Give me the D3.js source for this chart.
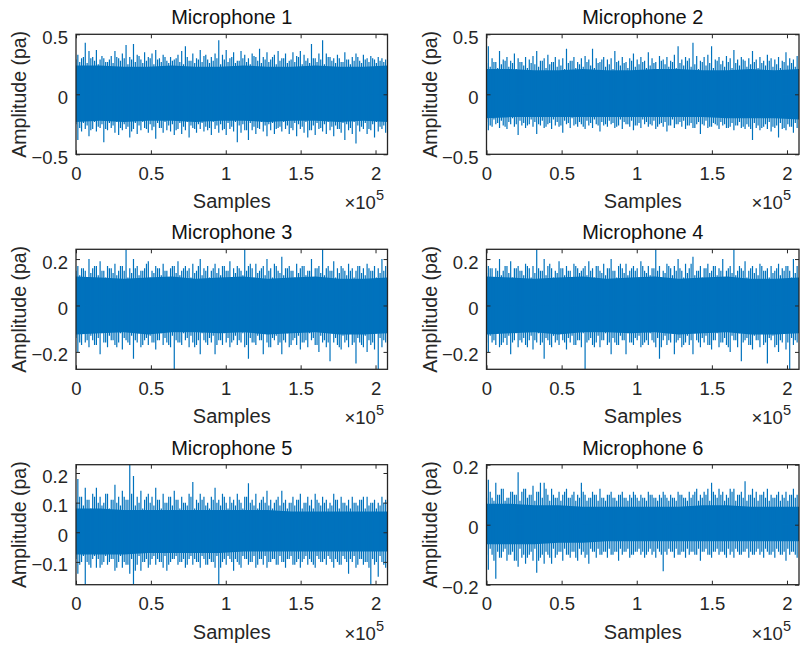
<!DOCTYPE html>
<html>
<head>
<meta charset="utf-8">
<script src="https://cdn.jsdelivr.net/npm/d3@7"></script>
<style>
  body { margin: 0; background: #fff; }
  svg { display: block; }
  text { font-family: "Liberation Sans", Arial, Helvetica, sans-serif; }
</style>
</head>
<body>
<svg id="fig" width="800" height="647"></svg>
<script>
// Six microphone recordings, 208000 samples each.
const sampleCount = 208000;

const titles = ["Microphone 1", "Microphone 2", "Microphone 3",
                "Microphone 4", "Microphone 5", "Microphone 6"];

const xTickValues = [0, 50000, 100000, 150000, 200000];
const xTickLabels = ["0", "0.5", "1", "1.5", "2"];
const xExponent = "5";

const yTicksMic1 = [-0.5, 0, 0.5];
const yTicksMic2 = [-0.5, 0, 0.5];
const yTicksMic3 = [-0.2, 0, 0.2];
const yTicksMic4 = [-0.2, 0, 0.2];
const yTicksMic5 = [-0.1, 0, 0.1, 0.2];
const yTicksMic6 = [-0.2, 0, 0.2];

// Fixed y limits; null means the axis is fitted tightly to the data.
const yLimMic1 = [-0.5, 0.5];
const yLimMic2 = [-0.5, 0.5];
const yLimMic3 = null;
const yLimMic4 = null;
const yLimMic5 = null;
const yLimMic6 = [-0.2, 0.2];

// Largest positive / negative excursion in each of 84 equal blocks.
const peakHiMic1 = [0.33,0.30,0.43,0.36,0.31,0.37,0.29,0.30,0.27,0.32,0.36,0.30,0.34,0.41,0.31,0.42,0.33,0.29,0.35,0.31,0.34,0.37,0.30,0.33,0.28,0.31,0.29,0.33,0.36,0.40,0.28,0.34,0.30,0.37,0.32,0.29,0.31,0.34,0.45,0.33,0.37,0.30,0.35,0.28,0.36,0.33,0.30,0.34,0.31,0.38,0.31,0.35,0.29,0.33,0.36,0.30,0.34,0.28,0.35,0.32,0.36,0.33,0.30,0.42,0.30,0.34,0.45,0.34,0.31,0.30,0.33,0.27,0.35,0.29,0.31,0.34,0.28,0.33,0.30,0.32,0.29,0.31,0.30,0.29];
const peakLoMic1 = [-0.38,-0.31,-0.29,-0.35,-0.29,-0.31,-0.28,-0.40,-0.30,-0.28,-0.32,-0.34,-0.30,-0.29,-0.36,-0.29,-0.33,-0.30,-0.28,-0.32,-0.30,-0.37,-0.28,-0.32,-0.30,-0.31,-0.34,-0.29,-0.33,-0.30,-0.36,-0.28,-0.32,-0.29,-0.31,-0.30,-0.34,-0.29,-0.32,-0.30,-0.34,-0.29,-0.31,-0.40,-0.32,-0.30,-0.38,-0.30,-0.33,-0.29,-0.31,-0.35,-0.30,-0.33,-0.28,-0.31,-0.29,-0.33,-0.30,-0.35,-0.29,-0.32,-0.36,-0.30,-0.34,-0.29,-0.31,-0.33,-0.30,-0.35,-0.29,-0.32,-0.38,-0.30,-0.33,-0.41,-0.31,-0.29,-0.33,-0.30,-0.36,-0.31,-0.29,-0.32];
// Second-largest excursion in each block, found half a block earlier.
const subHiMic1 = [0.29,0.27,0.31,0.26,0.30,0.28,0.25,0.32,0.27,0.29,0.26,0.31,0.28,0.30,0.25,0.29,0.27,0.32,0.26,0.28,0.30,0.25,0.29,0.27,0.31,0.26,0.28,0.30,0.27,0.25,0.31,0.28,0.26,0.29,0.27,0.33,0.26,0.28,0.30,0.25,0.29,0.27,0.31,0.26,0.28,0.30,0.27,0.25,0.32,0.28,0.26,0.29,0.27,0.31,0.25,0.28,0.30,0.26,0.29,0.27,0.31,0.25,0.28,0.26,0.30,0.27,0.29,0.25,0.31,0.28,0.26,0.30,0.27,0.29,0.25,0.28,0.31,0.26,0.29,0.27,0.30,0.26,0.28,0.27];
const subLoMic1 = [-0.25,-0.28,-0.24,-0.26,-0.30,-0.23,-0.27,-0.25,-0.29,-0.24,-0.26,-0.23,-0.28,-0.25,-0.27,-0.31,-0.24,-0.26,-0.23,-0.29,-0.25,-0.27,-0.24,-0.28,-0.23,-0.26,-0.25,-0.30,-0.24,-0.27,-0.23,-0.26,-0.29,-0.25,-0.24,-0.27,-0.28,-0.23,-0.26,-0.25,-0.29,-0.24,-0.27,-0.23,-0.26,-0.25,-0.30,-0.24,-0.27,-0.28,-0.23,-0.26,-0.25,-0.24,-0.29,-0.27,-0.23,-0.26,-0.28,-0.24,-0.25,-0.27,-0.23,-0.30,-0.26,-0.24,-0.28,-0.25,-0.23,-0.27,-0.26,-0.29,-0.24,-0.25,-0.28,-0.23,-0.26,-0.27,-0.24,-0.29,-0.25,-0.23,-0.27,-0.26];

const peakHiMic2 = [0.40,0.30,0.27,0.36,0.29,0.31,0.28,0.34,0.30,0.27,0.31,0.29,0.32,0.36,0.28,0.30,0.33,0.27,0.31,0.29,0.30,0.38,0.28,0.31,0.27,0.30,0.32,0.29,0.38,0.30,0.27,0.31,0.29,0.30,0.36,0.28,0.31,0.27,0.30,0.34,0.29,0.31,0.28,0.35,0.30,0.27,0.32,0.29,0.31,0.28,0.33,0.40,0.29,0.31,0.30,0.43,0.32,0.28,0.31,0.33,0.40,0.29,0.31,0.28,0.32,0.30,0.37,0.29,0.31,0.28,0.30,0.36,0.29,0.31,0.28,0.33,0.30,0.29,0.31,0.28,0.35,0.30,0.29,0.32];
const peakLoMic2 = [-0.30,-0.27,-0.25,-0.28,-0.26,-0.29,-0.25,-0.27,-0.34,-0.26,-0.28,-0.25,-0.27,-0.33,-0.26,-0.28,-0.25,-0.29,-0.26,-0.27,-0.32,-0.25,-0.28,-0.26,-0.27,-0.25,-0.29,-0.26,-0.28,-0.25,-0.31,-0.26,-0.27,-0.25,-0.28,-0.26,-0.29,-0.25,-0.27,-0.30,-0.26,-0.28,-0.25,-0.27,-0.26,-0.29,-0.25,-0.27,-0.31,-0.26,-0.28,-0.25,-0.27,-0.29,-0.26,-0.28,-0.25,-0.33,-0.26,-0.28,-0.27,-0.25,-0.29,-0.26,-0.28,-0.27,-0.30,-0.26,-0.28,-0.29,-0.27,-0.38,-0.28,-0.30,-0.27,-0.29,-0.31,-0.28,-0.36,-0.29,-0.30,-0.27,-0.32,-0.28];
const subHiMic2 = [0.26,0.23,0.27,0.22,0.25,0.28,0.23,0.26,0.21,0.27,0.24,0.22,0.26,0.25,0.23,0.28,0.22,0.25,0.27,0.23,0.24,0.21,0.26,0.28,0.22,0.25,0.23,0.27,0.24,0.22,0.26,0.29,0.23,0.25,0.21,0.27,0.24,0.26,0.22,0.28,0.23,0.25,0.27,0.22,0.24,0.26,0.21,0.28,0.25,0.23,0.27,0.22,0.26,0.24,0.28,0.23,0.25,0.21,0.27,0.24,0.26,0.22,0.28,0.25,0.23,0.27,0.22,0.26,0.24,0.29,0.23,0.25,0.27,0.22,0.26,0.24,0.28,0.23,0.25,0.22,0.27,0.24,0.26,0.23];
const subLoMic2 = [-0.23,-0.26,-0.21,-0.24,-0.22,-0.27,-0.23,-0.20,-0.25,-0.22,-0.24,-0.26,-0.21,-0.23,-0.25,-0.22,-0.27,-0.24,-0.21,-0.23,-0.26,-0.22,-0.24,-0.20,-0.25,-0.23,-0.27,-0.22,-0.24,-0.21,-0.26,-0.23,-0.25,-0.22,-0.24,-0.27,-0.21,-0.23,-0.25,-0.22,-0.26,-0.24,-0.21,-0.23,-0.25,-0.22,-0.27,-0.24,-0.23,-0.26,-0.21,-0.25,-0.23,-0.22,-0.26,-0.24,-0.28,-0.23,-0.25,-0.22,-0.27,-0.24,-0.26,-0.23,-0.25,-0.28,-0.24,-0.26,-0.23,-0.27,-0.25,-0.29,-0.24,-0.26,-0.28,-0.25,-0.23,-0.27,-0.26,-0.24,-0.28,-0.25,-0.27,-0.24];

const peakHiMic3 = [0.17,0.16,0.15,0.20,0.16,0.17,0.19,0.15,0.17,0.16,0.18,0.15,0.17,0.242,0.16,0.20,0.17,0.15,0.16,0.19,0.15,0.17,0.16,0.18,0.15,0.16,0.17,0.19,0.15,0.17,0.16,0.18,0.15,0.20,0.16,0.17,0.15,0.18,0.16,0.17,0.15,0.19,0.16,0.17,0.15,0.242,0.17,0.16,0.18,0.15,0.17,0.20,0.16,0.18,0.15,0.21,0.16,0.17,0.15,0.18,0.16,0.17,0.15,0.20,0.16,0.17,0.242,0.16,0.15,0.19,0.16,0.17,0.15,0.18,0.16,0.15,0.17,0.16,0.18,0.15,0.17,0.16,0.20,0.17];
const peakLoMic3 = [-0.20,-0.17,-0.16,-0.18,-0.15,-0.17,-0.21,-0.16,-0.18,-0.15,-0.17,-0.16,-0.19,-0.15,-0.17,-0.23,-0.16,-0.18,-0.15,-0.17,-0.16,-0.19,-0.15,-0.17,-0.16,-0.18,-0.275,-0.16,-0.17,-0.15,-0.18,-0.16,-0.17,-0.21,-0.15,-0.17,-0.16,-0.21,-0.15,-0.17,-0.16,-0.18,-0.15,-0.17,-0.16,-0.18,-0.23,-0.16,-0.17,-0.15,-0.21,-0.16,-0.18,-0.15,-0.17,-0.21,-0.16,-0.18,-0.15,-0.17,-0.19,-0.16,-0.18,-0.15,-0.17,-0.20,-0.16,-0.18,-0.24,-0.16,-0.17,-0.19,-0.16,-0.18,-0.17,-0.25,-0.16,-0.18,-0.20,-0.17,-0.19,-0.275,-0.18,-0.16];
const subHiMic3 = [0.15,0.13,0.16,0.12,0.14,0.17,0.13,0.15,0.12,0.16,0.14,0.13,0.17,0.15,0.12,0.14,0.16,0.13,0.15,0.18,0.12,0.14,0.16,0.13,0.15,0.12,0.17,0.14,0.13,0.16,0.15,0.12,0.14,0.17,0.13,0.15,0.12,0.16,0.14,0.13,0.17,0.15,0.12,0.14,0.16,0.13,0.15,0.18,0.12,0.14,0.16,0.13,0.15,0.12,0.17,0.14,0.13,0.16,0.15,0.12,0.14,0.17,0.13,0.15,0.12,0.16,0.14,0.13,0.17,0.15,0.12,0.14,0.16,0.13,0.15,0.12,0.17,0.14,0.13,0.16,0.15,0.12,0.14,0.15];
const subLoMic3 = [-0.14,-0.16,-0.12,-0.15,-0.13,-0.17,-0.14,-0.12,-0.16,-0.13,-0.15,-0.18,-0.12,-0.14,-0.16,-0.13,-0.15,-0.12,-0.17,-0.14,-0.13,-0.16,-0.15,-0.12,-0.14,-0.17,-0.13,-0.15,-0.16,-0.12,-0.14,-0.13,-0.18,-0.15,-0.12,-0.16,-0.14,-0.13,-0.17,-0.15,-0.12,-0.14,-0.16,-0.13,-0.15,-0.12,-0.17,-0.14,-0.16,-0.13,-0.15,-0.12,-0.18,-0.14,-0.13,-0.16,-0.15,-0.12,-0.17,-0.14,-0.13,-0.16,-0.15,-0.12,-0.14,-0.17,-0.13,-0.15,-0.16,-0.12,-0.14,-0.18,-0.13,-0.15,-0.12,-0.16,-0.14,-0.17,-0.13,-0.15,-0.16,-0.12,-0.14,-0.15];

const peakHiMic4 = [0.17,0.16,0.16,0.20,0.15,0.17,0.19,0.16,0.17,0.15,0.18,0.16,0.17,0.242,0.15,0.20,0.17,0.16,0.15,0.19,0.16,0.17,0.15,0.18,0.16,0.15,0.17,0.19,0.16,0.17,0.15,0.18,0.16,0.20,0.15,0.17,0.16,0.18,0.15,0.17,0.16,0.19,0.15,0.17,0.16,0.242,0.17,0.15,0.18,0.16,0.17,0.20,0.15,0.18,0.16,0.21,0.15,0.17,0.16,0.18,0.15,0.17,0.16,0.20,0.15,0.17,0.242,0.15,0.16,0.19,0.15,0.17,0.16,0.18,0.15,0.16,0.17,0.15,0.18,0.16,0.17,0.15,0.20,0.17];
const peakLoMic4 = [-0.20,-0.16,-0.17,-0.18,-0.16,-0.17,-0.21,-0.15,-0.18,-0.16,-0.17,-0.15,-0.19,-0.16,-0.17,-0.23,-0.15,-0.18,-0.16,-0.17,-0.15,-0.19,-0.16,-0.17,-0.15,-0.18,-0.275,-0.15,-0.17,-0.16,-0.18,-0.15,-0.17,-0.21,-0.16,-0.17,-0.15,-0.21,-0.16,-0.17,-0.15,-0.18,-0.16,-0.17,-0.15,-0.18,-0.23,-0.15,-0.17,-0.16,-0.21,-0.15,-0.18,-0.16,-0.17,-0.21,-0.15,-0.18,-0.16,-0.17,-0.19,-0.15,-0.18,-0.16,-0.17,-0.20,-0.15,-0.18,-0.24,-0.15,-0.17,-0.19,-0.15,-0.18,-0.17,-0.25,-0.15,-0.18,-0.20,-0.16,-0.19,-0.275,-0.17,-0.16];
const subHiMic4 = [0.14,0.16,0.12,0.15,0.13,0.17,0.14,0.12,0.16,0.15,0.13,0.17,0.12,0.14,0.16,0.15,0.13,0.18,0.12,0.14,0.16,0.13,0.15,0.12,0.17,0.14,0.16,0.13,0.15,0.12,0.17,0.14,0.13,0.16,0.15,0.12,0.18,0.14,0.13,0.16,0.15,0.12,0.17,0.14,0.13,0.16,0.15,0.12,0.14,0.17,0.13,0.15,0.16,0.12,0.14,0.18,0.13,0.15,0.12,0.16,0.14,0.17,0.13,0.15,0.12,0.16,0.14,0.13,0.17,0.15,0.12,0.16,0.14,0.13,0.17,0.15,0.12,0.14,0.16,0.13,0.15,0.17,0.12,0.14];
const subLoMic4 = [-0.16,-0.13,-0.15,-0.12,-0.17,-0.14,-0.13,-0.16,-0.12,-0.15,-0.14,-0.18,-0.13,-0.15,-0.12,-0.16,-0.14,-0.17,-0.13,-0.15,-0.12,-0.16,-0.14,-0.13,-0.17,-0.15,-0.12,-0.16,-0.14,-0.18,-0.13,-0.15,-0.12,-0.16,-0.14,-0.17,-0.13,-0.15,-0.12,-0.16,-0.14,-0.13,-0.17,-0.15,-0.12,-0.16,-0.14,-0.18,-0.13,-0.15,-0.12,-0.16,-0.14,-0.17,-0.13,-0.15,-0.12,-0.16,-0.14,-0.13,-0.17,-0.15,-0.12,-0.16,-0.14,-0.18,-0.13,-0.15,-0.12,-0.16,-0.14,-0.17,-0.13,-0.15,-0.12,-0.16,-0.14,-0.13,-0.17,-0.15,-0.12,-0.16,-0.14,-0.15];

const peakHiMic5 = [0.18,0.12,0.15,0.11,0.13,0.15,0.12,0.10,0.13,0.11,0.16,0.12,0.14,0.11,0.228,0.19,0.12,0.14,0.11,0.13,0.12,0.15,0.11,0.13,0.10,0.12,0.14,0.11,0.12,0.10,0.13,0.17,0.11,0.13,0.12,0.10,0.12,0.15,0.11,0.13,0.10,0.12,0.11,0.13,0.10,0.12,0.165,0.11,0.13,0.10,0.12,0.14,0.11,0.10,0.12,0.14,0.11,0.10,0.12,0.11,0.13,0.10,0.12,0.11,0.13,0.10,0.12,0.11,0.10,0.13,0.11,0.12,0.10,0.11,0.12,0.10,0.11,0.12,0.12,0.10,0.11,0.10,0.12,0.11];
const peakLoMic5 = [-0.14,-0.10,-0.177,-0.11,-0.09,-0.12,-0.12,-0.10,-0.11,-0.09,-0.13,-0.10,-0.12,-0.11,-0.14,-0.175,-0.11,-0.13,-0.10,-0.12,-0.09,-0.11,-0.10,-0.12,-0.13,-0.10,-0.09,-0.11,-0.10,-0.12,-0.09,-0.11,-0.10,-0.12,-0.09,-0.11,-0.10,-0.12,-0.177,-0.10,-0.11,-0.09,-0.13,-0.10,-0.12,-0.09,-0.11,-0.10,-0.12,-0.09,-0.11,-0.12,-0.10,-0.09,-0.11,-0.10,-0.12,-0.09,-0.11,-0.10,-0.12,-0.09,-0.11,-0.10,-0.12,-0.09,-0.10,-0.11,-0.09,-0.12,-0.10,-0.11,-0.09,-0.14,-0.10,-0.12,-0.09,-0.11,-0.10,-0.177,-0.11,-0.15,-0.10,-0.12];
const subHiMic5 = [0.10,0.12,0.09,0.11,0.08,0.12,0.10,0.09,0.13,0.08,0.11,0.10,0.09,0.12,0.11,0.13,0.09,0.10,0.08,0.12,0.10,0.09,0.11,0.08,0.10,0.12,0.09,0.11,0.08,0.10,0.09,0.12,0.08,0.10,0.11,0.09,0.08,0.11,0.10,0.09,0.12,0.08,0.10,0.09,0.11,0.08,0.12,0.10,0.09,0.08,0.11,0.10,0.09,0.08,0.11,0.09,0.10,0.08,0.10,0.09,0.11,0.08,0.10,0.09,0.08,0.11,0.09,0.10,0.08,0.09,0.11,0.08,0.10,0.09,0.08,0.10,0.09,0.11,0.08,0.09,0.10,0.08,0.09,0.10];
const subLoMic5 = [-0.09,-0.11,-0.08,-0.10,-0.12,-0.08,-0.09,-0.11,-0.08,-0.10,-0.09,-0.12,-0.08,-0.10,-0.11,-0.09,-0.13,-0.08,-0.10,-0.09,-0.11,-0.08,-0.09,-0.10,-0.08,-0.11,-0.09,-0.08,-0.10,-0.09,-0.11,-0.08,-0.09,-0.10,-0.08,-0.11,-0.09,-0.10,-0.08,-0.12,-0.09,-0.08,-0.10,-0.09,-0.11,-0.08,-0.09,-0.10,-0.08,-0.11,-0.09,-0.08,-0.10,-0.09,-0.11,-0.08,-0.10,-0.09,-0.08,-0.11,-0.09,-0.10,-0.08,-0.09,-0.11,-0.08,-0.10,-0.09,-0.08,-0.10,-0.09,-0.11,-0.08,-0.10,-0.09,-0.08,-0.11,-0.09,-0.10,-0.12,-0.09,-0.10,-0.08,-0.11];

const peakHiMic6 = [0.15,0.09,0.14,0.10,0.12,0.09,0.11,0.10,0.175,0.11,0.12,0.10,0.13,0.11,0.14,0.14,0.10,0.12,0.09,0.11,0.10,0.12,0.09,0.11,0.10,0.14,0.10,0.09,0.11,0.10,0.12,0.09,0.10,0.11,0.09,0.10,0.11,0.09,0.10,0.11,0.09,0.10,0.09,0.11,0.10,0.09,0.10,0.11,0.09,0.10,0.09,0.11,0.10,0.09,0.11,0.10,0.12,0.10,0.11,0.12,0.14,0.10,0.12,0.11,0.10,0.12,0.12,0.10,0.11,0.145,0.10,0.12,0.11,0.10,0.11,0.12,0.10,0.09,0.11,0.10,0.11,0.10,0.12,0.10];
const peakLoMic6 = [-0.15,-0.10,-0.18,-0.11,-0.09,-0.12,-0.10,-0.12,-0.14,-0.11,-0.13,-0.10,-0.12,-0.16,-0.11,-0.13,-0.10,-0.13,-0.11,-0.09,-0.12,-0.10,-0.11,-0.09,-0.12,-0.10,-0.11,-0.13,-0.09,-0.11,-0.10,-0.09,-0.11,-0.10,-0.09,-0.12,-0.10,-0.09,-0.11,-0.10,-0.09,-0.10,-0.11,-0.09,-0.10,-0.11,-0.09,-0.155,-0.10,-0.09,-0.11,-0.10,-0.09,-0.11,-0.10,-0.09,-0.10,-0.12,-0.09,-0.10,-0.11,-0.09,-0.10,-0.09,-0.11,-0.10,-0.11,-0.09,-0.10,-0.09,-0.11,-0.10,-0.09,-0.10,-0.11,-0.09,-0.10,-0.11,-0.09,-0.10,-0.12,-0.10,-0.09,-0.11];
const subHiMic6 = [0.09,0.11,0.08,0.10,0.12,0.08,0.09,0.11,0.10,0.08,0.12,0.09,0.10,0.08,0.11,0.09,0.12,0.08,0.10,0.09,0.08,0.11,0.09,0.10,0.08,0.09,0.11,0.08,0.09,0.10,0.08,0.09,0.08,0.10,0.09,0.08,0.10,0.09,0.08,0.09,0.10,0.08,0.09,0.08,0.10,0.09,0.08,0.09,0.10,0.08,0.09,0.08,0.10,0.09,0.08,0.09,0.11,0.08,0.09,0.10,0.08,0.11,0.09,0.10,0.08,0.09,0.11,0.08,0.10,0.09,0.08,0.10,0.09,0.08,0.10,0.09,0.08,0.09,0.10,0.08,0.09,0.08,0.10,0.09];
const subLoMic6 = [-0.10,-0.08,-0.12,-0.09,-0.11,-0.08,-0.10,-0.09,-0.12,-0.08,-0.10,-0.11,-0.09,-0.08,-0.12,-0.10,-0.09,-0.11,-0.08,-0.10,-0.09,-0.08,-0.10,-0.09,-0.11,-0.08,-0.09,-0.10,-0.08,-0.09,-0.08,-0.10,-0.09,-0.08,-0.10,-0.09,-0.08,-0.09,-0.08,-0.10,-0.09,-0.08,-0.09,-0.10,-0.08,-0.09,-0.08,-0.10,-0.09,-0.08,-0.09,-0.08,-0.10,-0.09,-0.08,-0.09,-0.10,-0.08,-0.09,-0.08,-0.10,-0.09,-0.08,-0.09,-0.10,-0.08,-0.09,-0.08,-0.10,-0.09,-0.08,-0.09,-0.10,-0.08,-0.09,-0.08,-0.10,-0.09,-0.08,-0.10,-0.09,-0.08,-0.09,-0.10];

// Solid body of the waveform: upper / lower edge at 14 evenly spaced points.
const bandHiMic1 = [0.24,0.24,0.23,0.23,0.24,0.23,0.23,0.24,0.23,0.23,0.24,0.23,0.23,0.24];
const bandLoMic1 = [-0.23,-0.22,-0.23,-0.22,-0.22,-0.23,-0.22,-0.22,-0.23,-0.22,-0.22,-0.23,-0.22,-0.23];
const bandHiMic2 = [0.21,0.21,0.20,0.20,0.21,0.20,0.20,0.21,0.21,0.20,0.20,0.21,0.20,0.21];
const bandLoMic2 = [-0.20,-0.19,-0.19,-0.19,-0.19,-0.19,-0.19,-0.19,-0.19,-0.19,-0.20,-0.20,-0.20,-0.21];
const bandHiMic3 = [0.125,0.12,0.115,0.12,0.125,0.115,0.12,0.125,0.115,0.12,0.125,0.115,0.115,0.12];
const bandLoMic3 = [-0.125,-0.12,-0.115,-0.125,-0.115,-0.115,-0.12,-0.115,-0.125,-0.12,-0.115,-0.125,-0.125,-0.12];
const bandHiMic4 = [0.125,0.12,0.115,0.12,0.125,0.115,0.12,0.125,0.115,0.12,0.125,0.115,0.115,0.12];
const bandLoMic4 = [-0.125,-0.12,-0.115,-0.125,-0.115,-0.115,-0.12,-0.115,-0.125,-0.12,-0.115,-0.125,-0.125,-0.12];
const bandHiMic5 = [0.08,0.08,0.075,0.075,0.075,0.075,0.075,0.075,0.075,0.07,0.07,0.07,0.07,0.07];
const bandLoMic5 = [-0.075,-0.075,-0.075,-0.07,-0.07,-0.07,-0.07,-0.065,-0.065,-0.065,-0.065,-0.065,-0.065,-0.065];
const bandHiMic6 = [0.07,0.07,0.065,0.065,0.06,0.06,0.06,0.06,0.06,0.065,0.065,0.06,0.06,0.06];
const bandLoMic6 = [-0.065,-0.065,-0.065,-0.06,-0.06,-0.055,-0.055,-0.055,-0.055,-0.055,-0.055,-0.055,-0.055,-0.055];

const panels = [
  { title: titles[0], hi: peakHiMic1, lo: peakLoMic1, subHi: subHiMic1, subLo: subLoMic1, bandHi: bandHiMic1, bandLo: bandLoMic1, yTicks: yTicksMic1, yLim: yLimMic1 },
  { title: titles[1], hi: peakHiMic2, lo: peakLoMic2, subHi: subHiMic2, subLo: subLoMic2, bandHi: bandHiMic2, bandLo: bandLoMic2, yTicks: yTicksMic2, yLim: yLimMic2 },
  { title: titles[2], hi: peakHiMic3, lo: peakLoMic3, subHi: subHiMic3, subLo: subLoMic3, bandHi: bandHiMic3, bandLo: bandLoMic3, yTicks: yTicksMic3, yLim: yLimMic3 },
  { title: titles[3], hi: peakHiMic4, lo: peakLoMic4, subHi: subHiMic4, subLo: subLoMic4, bandHi: bandHiMic4, bandLo: bandLoMic4, yTicks: yTicksMic4, yLim: yLimMic4 },
  { title: titles[4], hi: peakHiMic5, lo: peakLoMic5, subHi: subHiMic5, subLo: subLoMic5, bandHi: bandHiMic5, bandLo: bandLoMic5, yTicks: yTicksMic5, yLim: yLimMic5 },
  { title: titles[5], hi: peakHiMic6, lo: peakLoMic6, subHi: subHiMic6, subLo: subLoMic6, bandHi: bandHiMic6, bandLo: bandLoMic6, yTicks: yTicksMic6, yLim: yLimMic6 }
];

// Layout of the 3 x 2 grid of axes.
const colLeft = [76, 486.5];
const colRight = [387.5, 799];
const expoRight = [384, 791];
const rowTop = [34.3, 249.3, 464.7];
const plotH = 120;

const lineColor = "#0072BD";
const axisColor = "#262626";
const tickLen = 4;

const svg = d3.select("#fig");

// vertical strokes from the zero line to each block extreme
function strokes(x, y, values, offset) {
  const block = sampleCount / values.length;
  return values.map((v, i) => {
    const px = x((i + offset) * block);
    return `M${px.toFixed(2)},${y(0).toFixed(2)}V${y(v).toFixed(2)}`;
  }).join("");
}

panels.forEach((p, k) => {
  const col = k % 2, row = Math.floor(k / 2);
  const xL = colLeft[col], xR = colRight[col];
  const yT = rowTop[row], yB = yT + plotH;

  const x = d3.scaleLinear().domain([0, sampleCount]).range([xL, xR]);
  const yDomain = p.yLim || [d3.min(p.lo), d3.max(p.hi)];
  const y = d3.scaleLinear().domain(yDomain).range([yB, yT]);

  const g = svg.append("g");

  const clipId = "clip" + k;
  g.append("clipPath").attr("id", clipId)
    .append("rect").attr("x", xL).attr("y", yT).attr("width", xR - xL).attr("height", plotH);

  const plot = g.append("g").attr("clip-path", `url(#${clipId})`);

  // solid body of the signal
  const bandStep = sampleCount / (p.bandHi.length - 1);
  plot.append("path")
    .attr("d", d3.area()
      .x(i => x(i * bandStep))
      .y0(i => y(p.bandLo[i]))
      .y1(i => y(p.bandHi[i]))(d3.range(p.bandHi.length)))
    .attr("fill", lineColor);

  const d = strokes(x, y, p.subHi, 0) + strokes(x, y, p.subLo, 0) +
            strokes(x, y, p.hi, 0.5) + strokes(x, y, p.lo, 0.5);
  plot.append("path").attr("d", d)
    .attr("stroke", lineColor).attr("stroke-width", 1.2).attr("fill", "none");

  // axes: ticks point inward on all four sides
  const fmtX = (v) => xTickLabels[xTickValues.indexOf(v)];
  const bottom = g.append("g").attr("transform", `translate(0,${yB})`)
    .call(d3.axisBottom(x).tickValues(xTickValues).tickFormat(fmtX)
      .tickSizeInner(-tickLen).tickSizeOuter(0).tickPadding(12.3));
  const top = g.append("g").attr("transform", `translate(0,${yT})`)
    .call(d3.axisTop(x).tickValues(xTickValues).tickFormat("")
      .tickSizeInner(-tickLen).tickSizeOuter(0));
  const left = g.append("g").attr("transform", `translate(${xL},0)`)
    .call(d3.axisLeft(y).tickValues(p.yTicks).tickFormat(d3.format(""))
      .tickSizeInner(-tickLen).tickSizeOuter(0).tickPadding(8));
  const right = g.append("g").attr("transform", `translate(${xR},0)`)
    .call(d3.axisRight(y).tickValues(p.yTicks).tickFormat("")
      .tickSizeInner(-tickLen).tickSizeOuter(0));

  [bottom, top, left, right].forEach(a => {
    a.select(".domain").remove();
    a.selectAll(".tick line").attr("stroke", axisColor).attr("stroke-width", 1);
    a.selectAll("text").attr("fill", axisColor).attr("font-size", 18.5)
      .attr("font-family", null);
  });
  left.selectAll("text").attr("dy", "0.49em");

  // box
  g.append("rect").attr("x", xL).attr("y", yT).attr("width", xR - xL).attr("height", plotH)
    .attr("fill", "none").attr("stroke", axisColor).attr("stroke-width", 1.3);

  // title
  g.append("text").attr("x", (xL + xR) / 2).attr("y", yT - 10)
    .attr("text-anchor", "middle").attr("font-size", 20).attr("fill", "#111")
    .text(p.title);

  // axis labels
  g.append("text").attr("x", (xL + xR) / 2).attr("y", yB + 54)
    .attr("text-anchor", "middle").attr("font-size", 20).attr("fill", axisColor)
    .text("Samples");
  g.append("text")
    .attr("transform", `translate(${xL - 50},${(yT + yB) / 2}) rotate(-90)`)
    .attr("text-anchor", "middle").attr("font-size", 19.5).attr("fill", axisColor)
    .text("Amplitude (pa)");

  // exponent of the sample axis
  const ex = g.append("text").attr("x", expoRight[col]).attr("y", yB + 55)
    .attr("text-anchor", "end").attr("font-size", 18.5).attr("fill", axisColor);
  ex.append("tspan").text("\u00d710");
  ex.append("tspan").attr("dy", -9).attr("font-size", 14.5).text(xExponent);
});
</script>
</body>
</html>
